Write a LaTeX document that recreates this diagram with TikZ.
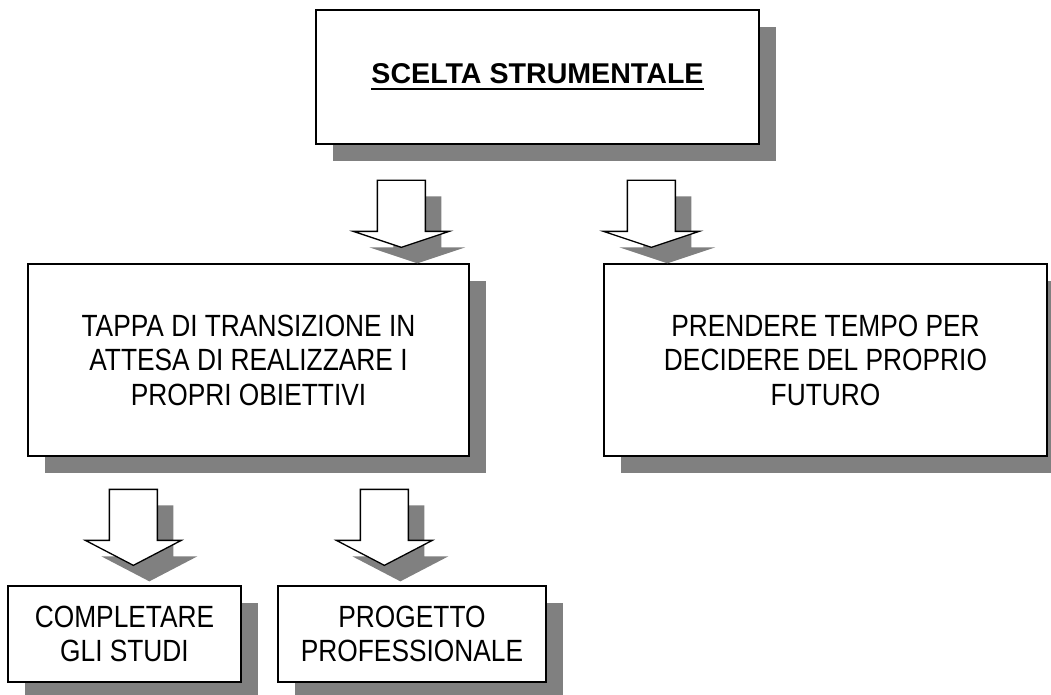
\documentclass[tikz,border=0pt]{standalone}
\usepackage{fontspec}
\setmainfont{Liberation Sans}
\newfontfamily\boxfont[FakeStretch=0.857]{Liberation Sans}
\usetikzlibrary{positioning,shadows,calc}

\newcommand{\ulinetext}[1]{\setbox0\hbox{#1}\rlap{\copy0}\rule[-6.5pt]{\wd0}{2.5pt}}

\begin{document}
\begin{tikzpicture}[x=1pt, y=-1pt,
		box/.style={rectangle, draw=black, line width=1.3pt, fill=white, text=black, align=center, inner sep=0pt,
			font=\boxfont\fontsize{30.7}{34.5}\selectfont,
			drop shadow={shadow xshift=17pt, shadow yshift=-17pt, fill=black!50, opacity=1}},
		title/.style={box, font=\fontsize{28.6}{35}\selectfont\bfseries},
		blockarrow/.style={draw=black, line width=1.3pt, fill=white, line join=miter,
			drop shadow={shadow xshift=16pt, shadow yshift=-16pt, fill=black!50, opacity=1}},
		head depth/.store in=\headdepth, head depth=16,
		arrowdown/.pic={
			\path [blockarrow] (0,0) -- (-48,-\headdepth) -- (-24,-\headdepth) -- (-24,-\headdepth-51)
				-- (24,-\headdepth-51) -- (24,-\headdepth) -- (48,-\headdepth) -- cycle;
		}
]

\useasboundingbox (0,0) rectangle (1051,695);

\node [title, minimum width=443pt, minimum height=134pt] (Scelta) at (537.5,77) {\ulinetext{SCELTA STRUMENTALE}};

\node [box, minimum width=441pt, minimum height=192pt] (Tappa) at (248.5,360)
	{TAPPA DI TRANSIZIONE IN\\ATTESA DI REALIZZARE I\\PROPRI OBIETTIVI};
\node [box, minimum width=443pt, minimum height=192pt] (Futuro) at (825.5,360)
	{PRENDERE TEMPO PER\\DECIDERE DEL PROPRIO\\FUTURO};

\node [box, minimum width=233pt, minimum height=96pt] (Studi) at (124.5,634) {COMPLETARE\\GLI STUDI};
\node [box, minimum width=268pt, minimum height=96pt] (Progetto) at (412,634) {PROGETTO\\PROFESSIONALE};

\coordinate (TipTappa) at ($(Tappa.north west)+(374,-16)$);
\coordinate (TipFuturo) at ($(Futuro.north west)+(48,-16)$);
\coordinate (TipStudi) at ($(Studi.north west)+(126,-20)$);
\coordinate (TipProgetto) at ($(Progetto.north west)+(107,-20)$);

\pic at (TipTappa) {arrowdown};
\pic at (TipFuturo) {arrowdown};
\pic [head depth=25] at (TipStudi) {arrowdown};
\pic [head depth=25] at (TipProgetto) {arrowdown};

\end{tikzpicture}
\end{document}
